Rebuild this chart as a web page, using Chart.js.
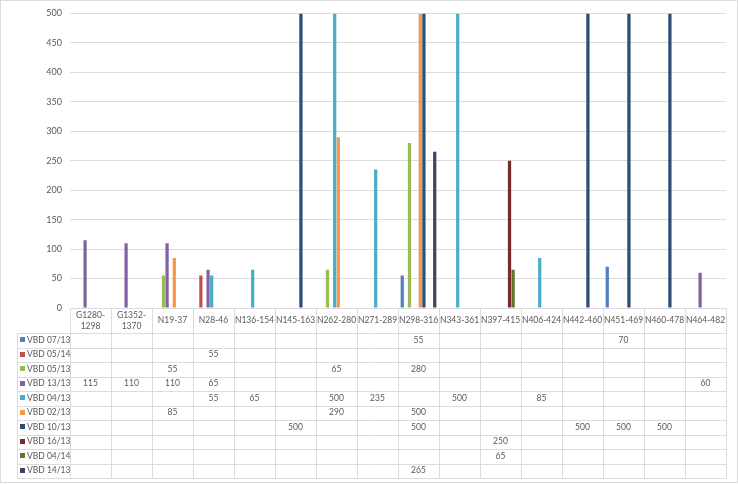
<!DOCTYPE html>
<html>
<head>
<meta charset="utf-8">
<script src="https://cdn.jsdelivr.net/npm/chart.js@4"></script>
<style>
  html, body { margin: 0; padding: 0; background: #fff; }
  #wrap { width: 738px; height: 484px; }
</style>
</head>
<body>
<div id="wrap"><canvas id="chart" width="738" height="484"></canvas></div>
<script>
const categories = [
  ["G1280-", "1298"], ["G1352-", "1370"], "N19-37", "N28-46", "N136-154", "N145-163",
  "N262-280", "N271-289", "N298-316", "N343-361", "N397-415", "N406-424",
  "N442-460", "N451-469", "N460-478", "N464-482"
];
const seriesNames = [
  "VBD 07/13", "VBD 05/14", "VBD 05/13", "VBD 13/13", "VBD 04/13",
  "VBD 02/13", "VBD 10/13", "VBD 16/13", "VBD 04/14", "VBD 14/13"
];
const seriesColors = [
  "#4F81BD", "#C0504D", "#9BBB59", "#8064A2", "#4BACC6",
  "#F79646", "#2C4D75", "#772C2A", "#5F7530", "#4D3B62"
];
const _ = null;
const vbd0713 = [_, _, _, _, _, _, _, _, 55, _, _, _, _, 70, _, _];
const vbd0514 = [_, _, _, 55, _, _, _, _, _, _, _, _, _, _, _, _];
const vbd0513 = [_, _, 55, _, _, _, 65, _, 280, _, _, _, _, _, _, _];
const vbd1313 = [115, 110, 110, 65, _, _, _, _, _, _, _, _, _, _, _, 60];
const vbd0413 = [_, _, _, 55, 65, _, 500, 235, _, 500, _, 85, _, _, _, _];
const vbd0213 = [_, _, 85, _, _, _, 290, _, 500, _, _, _, _, _, _, _];
const vbd1013 = [_, _, _, _, _, 500, _, _, 500, _, _, _, 500, 500, 500, _];
const vbd1613 = [_, _, _, _, _, _, _, _, _, _, 250, _, _, _, _, _];
const vbd0414 = [_, _, _, _, _, _, _, _, _, _, 65, _, _, _, _, _];
const vbd1413 = [_, _, _, _, _, _, _, _, 265, _, _, _, _, _, _, _];
const seriesValues = [vbd0713, vbd0514, vbd0513, vbd1313, vbd0413, vbd0213, vbd1013, vbd1613, vbd0414, vbd1413];

const yMax = 500;
const yStep = 50;

const GRID = "#dcdcdc";
const TEXT = "#595959";
const FONT = "Lato, 'Open Sans', sans-serif";

// data table under the plot, drawn from the same arrays and the x scale
const dataTable = {
  id: "dataTable",
  afterDraw(chart) {
    const ctx = chart.ctx;
    const area = chart.chartArea;
    const xs = chart.scales.x;
    const n = categories.length;
    const colW = (area.right - area.left) / n;
    const headerTop = area.bottom;
    const headerH = 25;
    const rowH = 14.5;
    const rowsTop = headerTop + headerH;
    const tableBottom = rowsTop + rowH * seriesNames.length;
    const legendLeft = 17;

    ctx.save();
    ctx.strokeStyle = GRID;
    ctx.lineWidth = 1;
    ctx.beginPath();
    ctx.moveTo(area.left, Math.round(headerTop) + 0.5);
    ctx.lineTo(area.right, Math.round(headerTop) + 0.5);
    for (let r = 0; r <= seriesNames.length; r++) {
      const y = Math.round(rowsTop + r * rowH) + 0.5;
      ctx.moveTo(legendLeft, y);
      ctx.lineTo(area.right, y);
    }
    for (let i = 0; i <= n; i++) {
      const x = Math.round(xs.getPixelForValue(i) - colW / 2) + 0.5;
      ctx.moveTo(x, headerTop);
      ctx.lineTo(x, tableBottom);
    }
    ctx.moveTo(legendLeft + 0.5, rowsTop);
    ctx.lineTo(legendLeft + 0.5, tableBottom);
    ctx.stroke();

    ctx.fillStyle = TEXT;
    ctx.font = "8.5px " + FONT;
    ctx.textAlign = "center";
    ctx.textBaseline = "middle";
    categories.forEach((c, i) => {
      const cx = xs.getPixelForValue(i);
      const lines = Array.isArray(c) ? c : [c];
      const lh = 11;
      const y0 = headerTop + headerH / 2 - (lines.length - 1) * lh / 2;
      lines.forEach((t, k) => ctx.fillText(t, cx, y0 + k * lh));
    });
    seriesNames.forEach((name, r) => {
      const cy = rowsTop + r * rowH + rowH / 2;
      ctx.fillStyle = seriesColors[r];
      ctx.fillRect(legendLeft + 3, Math.round(cy - 3), 5, 5);
      ctx.fillStyle = TEXT;
      ctx.textAlign = "left";
      ctx.fillText(name, legendLeft + 10, cy);
      ctx.textAlign = "center";
      seriesValues[r].forEach((v, i) => {
        if (v !== null) ctx.fillText(String(v), xs.getPixelForValue(i), cy);
      });
    });

    ctx.strokeStyle = GRID;
    ctx.strokeRect(0.5, 0.5, chart.width - 1, chart.height - 2);
    ctx.restore();
  }
};

const ctx = document.getElementById("chart").getContext("2d");
new Chart(ctx, {
  type: "bar",
  data: {
    labels: categories,
    datasets: seriesNames.map((name, i) => ({
      label: name,
      data: seriesValues[i],
      backgroundColor: seriesColors[i],
      borderWidth: 0,
      categoryPercentage: 0.88,
      barPercentage: 0.9,
      skipNull: false
    }))
  },
  options: {
    responsive: false,
    animation: false,
    layout: { padding: { left: 0, right: 12, top: 11, bottom: 176 } },
    plugins: {
      legend: { display: false },
      tooltip: { enabled: false }
    },
    scales: {
      x: {
        ticks: { display: false },
        grid: { display: false },
        border: { display: false },
        afterFit(scale) { scale.height = 0; }
      },
      y: {
        min: 0,
        max: yMax,
        ticks: {
          stepSize: yStep,
          color: TEXT,
          font: { family: FONT, size: 9 },
          padding: 8
        },
        grid: { color: GRID, drawTicks: false },
        border: { display: false },
        afterFit(scale) { scale.width = 70; }
      }
    }
  },
  plugins: [dataTable]
});
</script>
</body>
</html>
